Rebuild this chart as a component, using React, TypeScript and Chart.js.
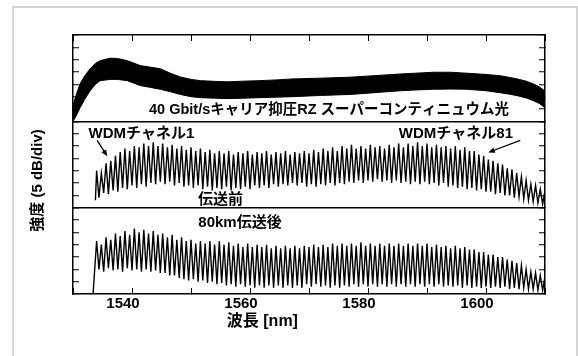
import React, { useEffect, useRef } from "react";
import { Chart, registerables } from "chart.js";

Chart.register(...registerables);

// ---- Data ----
// Top panel: 40 Gbit/s CS-RZ supercontinuum, dense mode band (upper / lower edge, dB within panel)
const SC_NM = [1530, 1530.5, 1531.2, 1532, 1532.9, 1533.8, 1534.6, 1536.3, 1537.5, 1539.2, 1541.4, 1543, 1544.8, 1546.5, 1548.2, 1550, 1551.6, 1554, 1556.1, 1559, 1561.7, 1564.5, 1567.3, 1572, 1577, 1581, 1585.5, 1588, 1591.1, 1594, 1596.8, 1600, 1602.4, 1604, 1605.3, 1606.8, 1608, 1609, 1610];
const SC_UPPER = [6.5, 10.5, 15.2, 18.5, 21.3, 23.5, 24.6, 25.6, 25.5, 24.6, 22.6, 22, 21.3, 19.5, 18, 17, 16.5, 16.2, 16, 16.3, 16.5, 16.8, 17.2, 17.5, 17.9, 18.5, 19.2, 19.5, 19.9, 19.9, 19.5, 19, 18.5, 17.8, 17.2, 16.3, 15.2, 14, 12.3];
const SC_LOWER = [0, 2, 5.5, 9, 12.4, 15, 16.5, 17, 17, 16.5, 14.5, 13.8, 13, 12, 10.9, 10, 9.6, 9.4, 9.2, 9.4, 9.6, 9.8, 10, 10.5, 10.9, 11.6, 12.4, 12.7, 13, 13.1, 13, 12.4, 11.6, 11, 10.4, 9.5, 8.4, 7.3, 5.5];

// WDM channel grid (100 GHz ≈ 0.8 nm)
const CH_FIRST_NM = 1534.0;
const CH_SPACING_NM = 0.8;

// Middle panel: before transmission (peak / trough per channel, dB within panel)
const MID_START = [1533.8, 3];
const MID_PEAK = [15, 14, 18, 19, 21, 22.5, 24, 23, 25, 24.5, 26, 25, 26.5, 25, 26, 24.5, 25.5, 24, 25, 23.5, 24.5, 23, 24, 22.5, 23.5, 22, 23, 22, 23, 21.5, 22.5, 22, 23, 21.5, 22.5, 22, 23, 21.5, 22.5, 22, 23, 21.5, 22.5, 22, 23, 22, 23.5, 22.5, 24, 23, 24.5, 23, 25, 24, 25.5, 24, 25, 24, 25.5, 24.5, 25, 24, 25.5, 24.5, 26, 24.5, 26, 25, 26.5, 25, 26, 24.5, 25.5, 24.5, 25, 24, 25, 23.5, 24.5, 23, 23, 21.5, 21, 19.5, 19, 18, 17.5, 16, 15.5, 14, 12.5, 11, 9.5, 9, 7.5, 7];
const MID_TROUGH = [4, 6, 5.5, 7, 6.5, 8, 7.5, 9, 8, 9.5, 8.5, 10, 9.5, 10.5, 9.5, 10.5, 9, 10, 8.5, 9, 8, 9, 7.5, 8.5, 7, 8, 7.5, 8.5, 7, 8, 7.5, 8.5, 7.5, 9, 8, 9, 8, 9.5, 8.5, 9.5, 9, 10, 9, 10, 8.5, 9.5, 8.5, 9.5, 9, 10, 9, 10, 9.5, 10.5, 10, 11, 10, 11, 10.5, 11.5, 10.5, 11, 10, 11, 10, 10.5, 9.5, 10.5, 9.5, 10.5, 9.5, 10, 9, 10, 8.5, 9, 8, 8.5, 7.5, 8, 7, 7.5, 6.5, 6.5, 5.5, 6, 5, 5, 4, 4.5, 3.5, 3, 2.5, 2, 1.5, 1.5];

// Bottom panel: after 80 km transmission
const BOT_START = [1533.4, 0];
const BOT_PEAK = [21.5, 20, 23, 22, 24.5, 23.5, 25.5, 24, 26.5, 25, 26, 24.5, 25.5, 24, 24.5, 23, 24, 22, 23, 21.5, 22, 20.5, 21.5, 20.5, 21.5, 20, 21.5, 20, 21, 19.5, 20.5, 19, 20.5, 19, 20, 19, 20, 18.5, 19.5, 18.5, 19.5, 18.5, 19.5, 18.5, 19.5, 19, 20, 19, 20, 19, 20.5, 19.5, 20.5, 19.5, 20.5, 19.5, 21, 19.5, 20.5, 19.5, 20.5, 19.5, 20.5, 19.5, 20.5, 19.5, 20.5, 19.5, 20.5, 19.5, 20.5, 19, 20, 19, 19.5, 18.5, 19.5, 18.5, 19, 18, 18, 17, 17, 16, 16, 15, 15, 14, 13.5, 12.5, 11.5, 10, 9, 8.5, 7.5, 7];
const BOT_TROUGH = [10, 9, 10.5, 9.5, 10, 9, 10.5, 9.5, 10, 9, 10, 9, 9.5, 8.5, 8.5, 7.5, 7.5, 6.5, 6, 5.5, 6, 5, 5.5, 4.5, 5, 4, 4.5, 3.5, 4, 3, 4, 3, 3.5, 2.5, 3.5, 2.5, 3.5, 2.5, 3.5, 2.5, 3.5, 2.5, 3.5, 2.5, 4, 3, 4, 3, 3.5, 2.5, 3.5, 2.5, 3.5, 3, 4, 3, 4, 3, 4, 3, 4, 3, 4, 3, 4, 3, 4, 3, 4, 3, 4, 3, 4, 3, 3.5, 3, 3.5, 2.5, 3.5, 2.5, 3, 2.5, 3, 2.5, 3, 2.5, 3, 2, 2.5, 2, 2.5, 2, 2, 1.5, 1.5, 1.5];

// Axis setup
const X_MIN = 1530;
const X_MAX = 1610;
const X_STEP = 10;
const X_LABEL_STEP = 20;
const PANEL_MIN = 0;
const PANEL_MAX = 35; // 7 divisions of 5 dB
const PANEL_STEP = 5;

const Y_TITLE = "強度 (5 dB/div)";
const X_TITLE = "波長 [nm]";

const FONT = '"Liberation Sans", Arial, "Noto Sans CJK JP", sans-serif';

// Text annotations (positions in data units of the given panel axis)
const NOTES = [
  { text: "40 Gbit/sキャリア抑圧RZ スーパーコンティニュウム光", axis: "yTop", nm: 1573.4, db: 4.5, size: 14.5 },
  { text: "WDMチャネル1", axis: "yMid", nm: 1541.6, db: 30.1, size: 15 },
  { text: "WDMチャネル81", axis: "yMid", nm: 1594.9, db: 30.1, size: 15 },
  { text: "伝送前", axis: "yMid", nm: 1555, db: 3.3, size: 15 },
  { text: "80km伝送後", axis: "yBot", nm: 1558.3, db: 29, size: 15 },
];
const ARROWS = [
  { axis: "yMid", from: [1534.1, 27.3], to: [1535.8, 20.8] },
  { axis: "yMid", from: [1605.8, 27.3], to: [1600.4, 22.4] },
];

function combPoints(start: number[], peaks: number[], troughs: number[]) {
  const pts: { x: number; y: number }[] = [{ x: start[0], y: start[1] }];
  for (let i = 0; i < peaks.length; i++) {
    const c = CH_FIRST_NM + i * CH_SPACING_NM;
    pts.push({ x: c, y: peaks[i] });
    pts.push({ x: c + CH_SPACING_NM / 2, y: troughs[i] });
  }
  return pts;
}

const annotationPlugin = {
  id: "figureText",
  afterDraw(chart: any) {
    const { ctx, scales, chartArea } = chart;
    const xs = scales.x;
    ctx.save();
    ctx.fillStyle = "#000";
    ctx.strokeStyle = "#000";
    ctx.textAlign = "center";
    ctx.textBaseline = "middle";
    for (const n of NOTES) {
      ctx.font = `bold ${n.size}px ${FONT}`;
      ctx.fillText(n.text, xs.getPixelForValue(n.nm), scales[n.axis].getPixelForValue(n.db));
    }
    for (const a of ARROWS) {
      const ys = scales[a.axis];
      const x1 = xs.getPixelForValue(a.from[0]);
      const y1 = ys.getPixelForValue(a.from[1]);
      const x2 = xs.getPixelForValue(a.to[0]);
      const y2 = ys.getPixelForValue(a.to[1]);
      const ang = Math.atan2(y2 - y1, x2 - x1);
      ctx.lineWidth = 1.3;
      ctx.beginPath();
      ctx.moveTo(x1, y1);
      ctx.lineTo(x2 - Math.cos(ang) * 4, y2 - Math.sin(ang) * 4);
      ctx.stroke();
      const hl = 7;
      const hw = 0.4;
      ctx.beginPath();
      ctx.moveTo(x2, y2);
      ctx.lineTo(x2 - hl * Math.cos(ang - hw), y2 - hl * Math.sin(ang - hw));
      ctx.lineTo(x2 - hl * Math.cos(ang + hw), y2 - hl * Math.sin(ang + hw));
      ctx.closePath();
      ctx.fill();
    }
    // axis titles
    ctx.font = `bold 16px ${FONT}`;
    ctx.fillText(X_TITLE, xs.getPixelForValue(1562.1), chartArea.bottom + 28);
    ctx.save();
    ctx.translate(chartArea.left - 35, scales.yMid.getPixelForValue(11));
    ctx.rotate(-Math.PI / 2);
    ctx.font = `bold 15px ${FONT}`;
    ctx.fillText(Y_TITLE, 0, 0);
    ctx.restore();
    ctx.restore();
  },
};

function yAxis(position: string, weight: number, divider: boolean) {
  return {
    type: "linear",
    position,
    stack: "panels" + position,
    stackWeight: 1,
    weight,
    min: PANEL_MIN,
    max: PANEL_MAX,
    ticks: { stepSize: PANEL_STEP, display: false },
    grid: {
      drawOnChartArea: divider,
      color: (c: any) => (c.tick && c.tick.value === PANEL_MAX ? "#000" : "rgba(0,0,0,0)"),
      lineWidth: 1.5,
      tickColor: "#000",
      tickLength: -6,
      tickWidth: 1,
    },
    border: { color: "#000", width: 1.5 },
    afterFit: (s: any) => {
      s.width = 0;
    },
  };
}

export default function App() {
  const ref = useRef<HTMLCanvasElement>(null);
  useEffect(() => {
    if (!ref.current) return;
    const chart = new Chart(ref.current, {
      type: "line",
      data: {
        datasets: [
          {
            data: SC_NM.map((x, i) => ({ x, y: SC_UPPER[i] })),
            yAxisID: "yTop",
            borderColor: "#000",
            backgroundColor: "#000",
            borderWidth: 1,
            fill: "+1",
          },
          {
            data: SC_NM.map((x, i) => ({ x, y: SC_LOWER[i] })),
            yAxisID: "yTop",
            borderColor: "#000",
            borderWidth: 1,
            fill: false,
          },
          {
            data: combPoints(MID_START, MID_PEAK, MID_TROUGH),
            yAxisID: "yMid",
            borderColor: "#000",
            borderWidth: 1.4,
            fill: false,
          },
          {
            data: combPoints(BOT_START, BOT_PEAK, BOT_TROUGH),
            yAxisID: "yBot",
            borderColor: "#000",
            borderWidth: 1.4,
            fill: false,
          },
        ],
      },
      options: {
        animation: false,
        responsive: false,
        events: [],
        parsing: false as any,
        normalized: true,
        layout: { padding: { left: 73, right: 33, top: 35, bottom: 42 } },
        elements: { point: { radius: 0 }, line: { tension: 0 } },
        plugins: { legend: { display: false }, tooltip: { enabled: false } },
        scales: {
          x: {
            type: "linear",
            position: "bottom",
            min: X_MIN,
            max: X_MAX,
            ticks: {
              stepSize: X_STEP,
              autoSkip: false,
              maxRotation: 0,
              callback: (v: any) => (Math.round(Number(v)) % X_LABEL_STEP === 0 ? String(Math.round(Number(v))) : ""),
              font: { family: FONT, size: 15, weight: "bold" },
              color: "#000",
              padding: 7,
              labelOffset: -9,
            },
            grid: { drawOnChartArea: false, tickColor: "#000", tickLength: -6, tickWidth: 1 },
            border: { color: "#000", width: 1.5 },
            afterFit: (s: any) => {
              s.height = 20;
            },
          },
          x2: {
            type: "linear",
            position: "top",
            min: X_MIN,
            max: X_MAX,
            ticks: { stepSize: X_STEP, display: false },
            grid: { drawOnChartArea: false, tickColor: "#000", tickLength: -6, tickWidth: 1 },
            border: { color: "#000", width: 1.5 },
            afterFit: (s: any) => {
              s.height = 0;
            },
          },
          yTop: yAxis("left", 3, false),
          yMid: yAxis("left", 2, true),
          yBot: yAxis("left", 1, true),
          rTop: yAxis("right", 1, false),
          rMid: yAxis("right", 2, false),
          rBot: yAxis("right", 3, false),
        } as any,
      },
      plugins: [annotationPlugin],
    } as any);
    return () => chart.destroy();
  }, []);

  return (
    <div style={{ position: "fixed", left: 0, top: 0, width: 578, height: 356, overflow: "hidden", background: "#fff" }}>
      <div
        style={{
          position: "absolute",
          left: 12,
          top: 6,
          width: 562,
          height: 400,
          border: "2px solid #d4d4d4",
          boxSizing: "content-box",
        }}
      />
      <canvas ref={ref} width={578} height={356} style={{ position: "absolute", left: 0, top: 0, width: 578, height: 356 }} />
    </div>
  );
}
